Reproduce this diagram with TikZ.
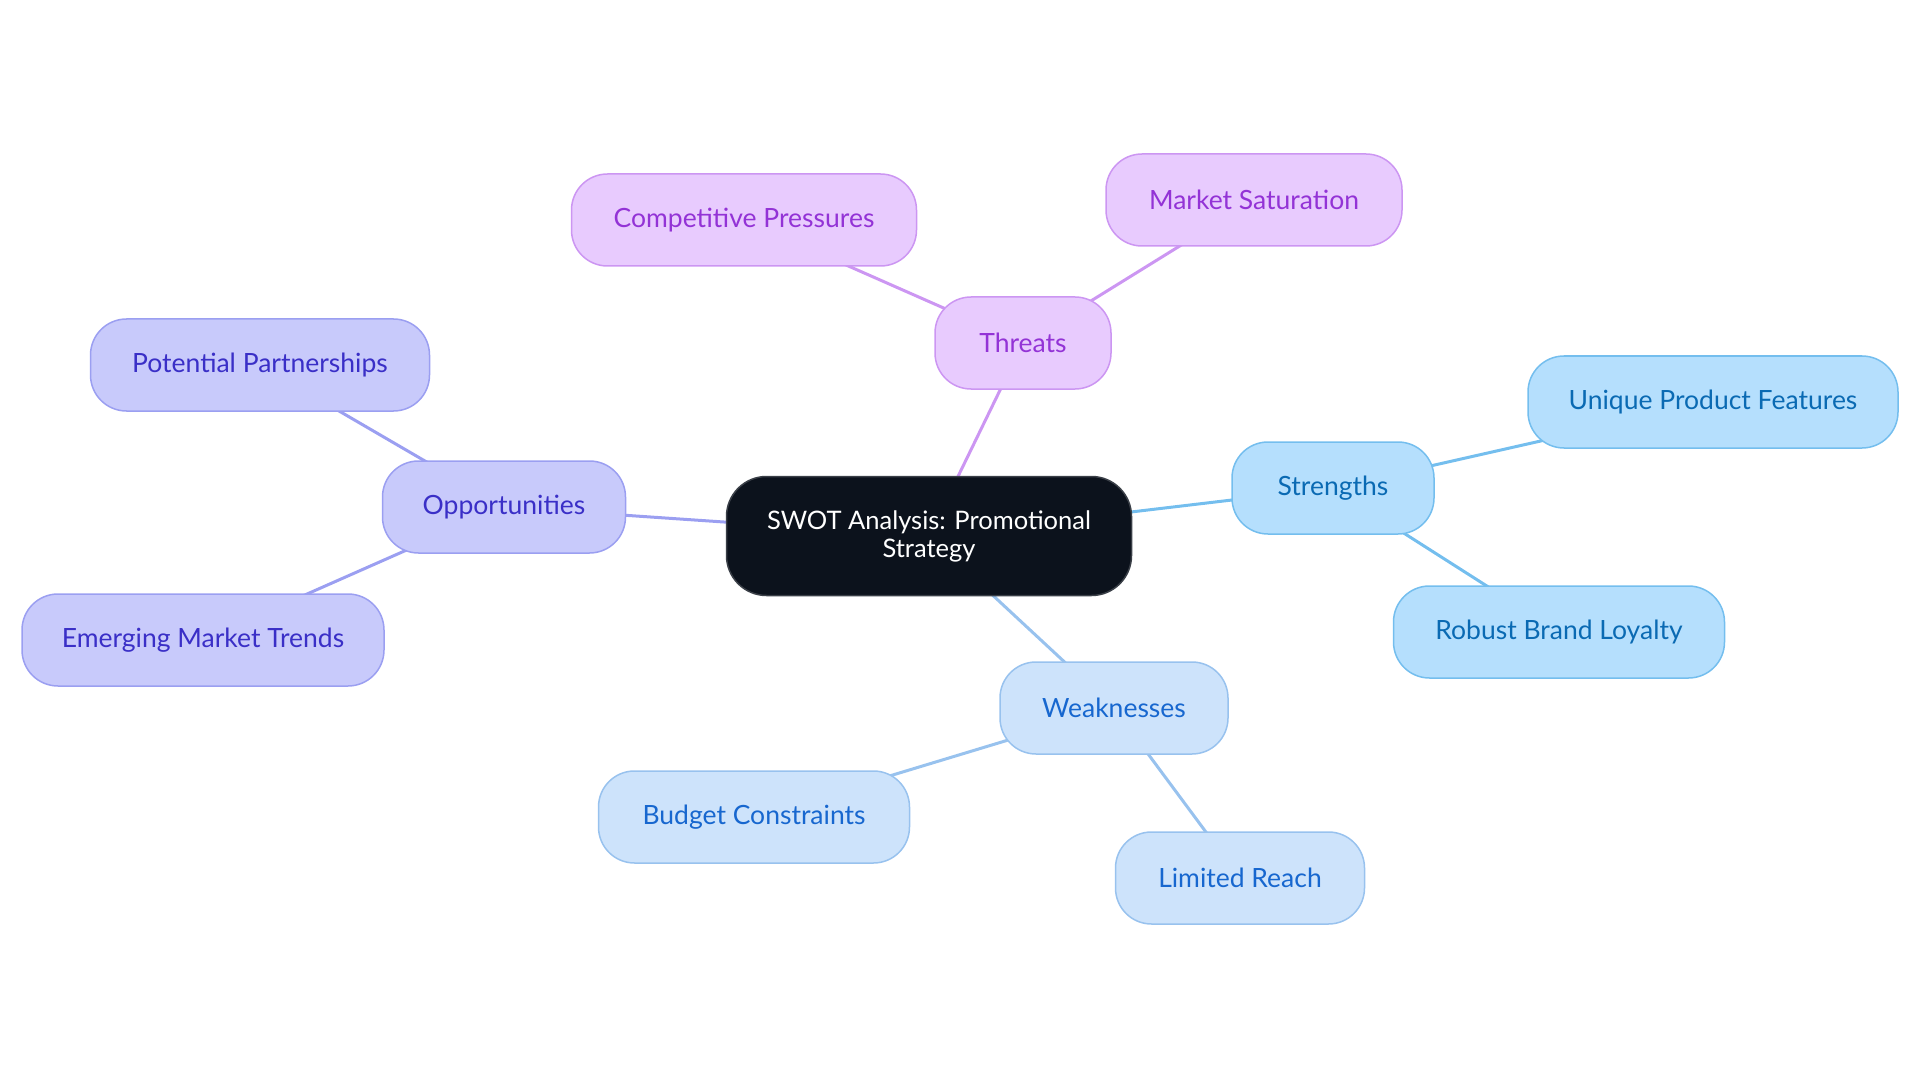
\documentclass[tikz,border=0pt]{standalone}
\usepackage{fontspec}
\setmainfont{Lato}
\usetikzlibrary{backgrounds}
\definecolor{centfill}{HTML}{0C121C}
\definecolor{centdraw}{HTML}{3A3F47}
\definecolor{thfill}{HTML}{E8CBFE}
\definecolor{thdraw}{HTML}{CC96F2}
\definecolor{thtext}{HTML}{9333D6}
\definecolor{opfill}{HTML}{C8CAFB}
\definecolor{opdraw}{HTML}{9B9FF1}
\definecolor{optext}{HTML}{3A2FC7}
\definecolor{stfill}{HTML}{B5DFFD}
\definecolor{stdraw}{HTML}{74BEEE}
\definecolor{sttext}{HTML}{0A6AB3}
\definecolor{wkfill}{HTML}{CDE3FB}
\definecolor{wkdraw}{HTML}{98C2EE}
\definecolor{wktext}{HTML}{1767CF}
\tikzset{
  box/.style={rectangle, rounded corners=36pt, minimum height=92pt, line width=1.5pt, align=center, inner sep=0pt, font=\fontsize{26.5}{28}\selectfont},
  centbox/.style={box, fill=centfill, draw=centdraw, text=white, rounded corners=40pt, minimum height=119pt, minimum width=405pt, font=\fontsize{25.5}{28}\selectfont},
  thbox/.style={box, fill=thfill, draw=thdraw, text=thtext},
  opbox/.style={box, fill=opfill, draw=opdraw, text=optext},
  stbox/.style={box, fill=stfill, draw=stdraw, text=sttext},
  wkbox/.style={box, fill=wkfill, draw=wkdraw, text=wktext},
  link/.style={line width=3pt}
}
\begin{document}
\begin{tikzpicture}[x=1pt,y=-1pt]
\useasboundingbox (0,0) rectangle (1920,1083);
\node[centbox] (c) at (929,536) {SWOT Analysis: Promotional\\Strategy};
\node[thbox, minimum width=176pt] (th) at (1023,343) {Threats};
\node[thbox, minimum width=345pt] (cp) at (744,220) {Competitive Pressures};
\node[thbox, minimum width=296pt] (ms) at (1254,200) {Market Saturation};
\node[opbox, minimum width=243pt] (op) at (504,507) {Opportunities};
\node[opbox, minimum width=339pt] (pp) at (260,365) {Potential Partnerships};
\node[opbox, minimum width=362pt] (em) at (203,640) {Emerging Market Trends};
\node[stbox, minimum width=202pt] (st) at (1333,488) {Strengths};
\node[stbox, minimum width=370pt] (up) at (1713,402) {Unique Product Features};
\node[stbox, minimum width=331pt] (rb) at (1559,632) {Robust Brand Loyalty};
\node[wkbox, minimum width=228pt] (wk) at (1114,708) {Weaknesses};
\node[wkbox, minimum width=311pt] (bc) at (754,817) {Budget Constraints};
\node[wkbox, minimum width=249pt] (lr) at (1240,878) {Limited Reach};
\begin{scope}[on background layer]
\draw[link, thdraw] (c.center) -- (th.center);
\draw[link, thdraw] (th.center) -- (cp.center);
\draw[link, thdraw] (th.center) -- (ms.center);
\draw[link, opdraw] (c.center) -- (op.center);
\draw[link, opdraw] (op.center) -- (pp.center);
\draw[link, opdraw] (op.center) -- (em.center);
\draw[link, stdraw] (c.center) -- (st.center);
\draw[link, stdraw] (st.center) -- (up.center);
\draw[link, stdraw] (st.center) -- (rb.center);
\draw[link, wkdraw] (c.center) -- (wk.center);
\draw[link, wkdraw] (wk.center) -- (bc.center);
\draw[link, wkdraw] (wk.center) -- (lr.center);
\end{scope}
\end{tikzpicture}
\end{document}
